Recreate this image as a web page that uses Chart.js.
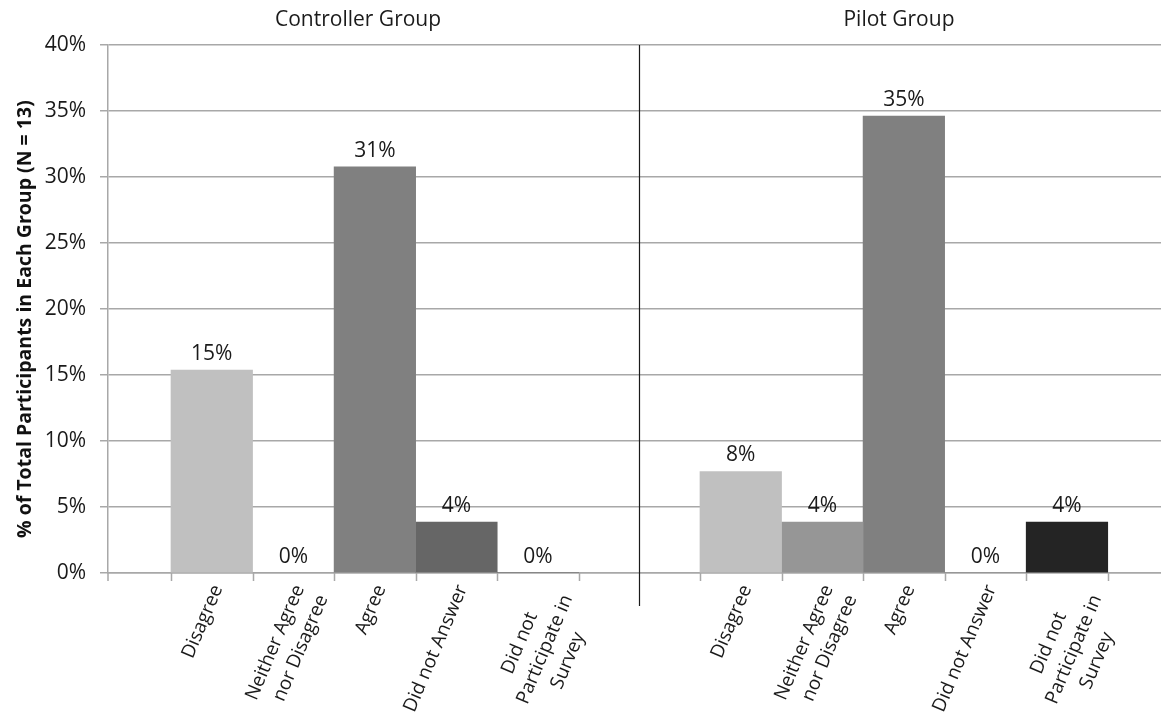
<!DOCTYPE html>
<html><head><meta charset="utf-8">
<script src="https://cdn.jsdelivr.net/npm/chart.js@4.4.1/dist/chart.umd.min.js"></script>
<style>html,body{margin:0;padding:0;background:#fff;}</style>
</head><body>
<canvas id="c" width="1161" height="713"></canvas>
<script>
const groups = ['Controller Group', 'Pilot Group'];
const categories = ['Disagree', 'Neither Agree nor Disagree', 'Agree', 'Did not Answer', 'Did not Participate in Survey'];
const tickLabels = [['Disagree'], ['Neither Agree', 'nor Disagree'], ['Agree'], ['Did not Answer'], ['Did not      ', 'Participate in', 'Survey      ']];
const controllerValues = [15.38, 0, 30.77, 3.85, 0];
const pilotValues = [7.69, 3.85, 34.62, 0, 3.85];
const yTickValues = [0, 5, 10, 15, 20, 25, 30, 35, 40];
const yAxisTitle = '% of Total Participants in Each Group (N = 13)    ';

// layout / style (not data)
const groupValues = [controllerValues, pilotValues];
const barColors = ['#c0c0c0', '#969696', '#808080', '#666666', '#242424'];
const groupStart = [0.7725, 7.259];
const X_MAX = 12.912;
const titleX = [3.066, 9.699];
const FONT = "'Open Sans', 'DejaVu Sans', sans-serif";
const GRID = '#a8a8a8';
const TEXT = '#1a1a1a';

const datasets = categories.map((cat, i) => ({
  label: cat,
  data: groups.map((g, gi) => ({ x: groupStart[gi] + i + 0.5, y: groupValues[gi][i] })),
  backgroundColor: barColors[i],
  borderWidth: 0,
  grouped: false,
  categoryPercentage: 1,
  barPercentage: 1
}));
const tickCenters = [];
groups.forEach((g, gi) => categories.forEach((c, i) => tickCenters.push(groupStart[gi] + i + 0.5)));

const decor = {
  id: 'decor',
  afterDatasetsDraw(chart) {
    const { ctx, chartArea, scales: { x } } = chart;
    ctx.save();
    // value labels
    ctx.font = `21px ${FONT}`;
    ctx.fillStyle = TEXT;
    ctx.textAlign = 'center';
    ctx.textBaseline = 'alphabetic';
    chart.data.datasets.forEach((ds, di) => {
      chart.getDatasetMeta(di).data.forEach((el, j) => {
        ctx.fillText(Math.round(ds.data[j].y) + '%', el.x, el.y - 10);
      });
    });
    // x tick marks at bar boundaries
    ctx.strokeStyle = GRID;
    ctx.lineWidth = 1.5;
    ctx.beginPath();
    ctx.moveTo(chartArea.left, chartArea.bottom);
    ctx.lineTo(chartArea.left, chartArea.bottom + 8);
    groups.forEach((g, gi) => {
      for (let k = 0; k <= categories.length; k++) {
        const px = Math.round(x.getPixelForValue(groupStart[gi] + k)) + 0.5;
        ctx.moveTo(px, chartArea.bottom);
        ctx.lineTo(px, chartArea.bottom + 8);
      }
    });
    ctx.stroke();
    // divider
    const dv = Math.round(x.getPixelForValue((groupStart[0] + categories.length + groupStart[1]) / 2)) + 0.5;
    ctx.strokeStyle = '#1a1a1a';
    ctx.lineWidth = 1.2;
    ctx.beginPath();
    ctx.moveTo(dv, chartArea.top);
    ctx.lineTo(dv, chartArea.bottom + 33);
    ctx.stroke();
    // group titles
    ctx.font = `21px ${FONT}`;
    ctx.fillStyle = TEXT;
    ctx.textBaseline = 'middle';
    groups.forEach((g, gi) => ctx.fillText(g, x.getPixelForValue(titleX[gi]), 20));
    ctx.restore();
  }
};

new Chart(document.getElementById('c'), {
  type: 'bar',
  data: { datasets },
  plugins: [decor],
  options: {
    responsive: false,
    animation: false,
    devicePixelRatio: 1,
    layout: { padding: { top: 45, left: 0, right: 0, bottom: 0 } },
    plugins: { legend: { display: false }, tooltip: { enabled: false } },
    scales: {
      x: {
        type: 'linear',
        min: 0,
        max: X_MAX,
        offset: false,
        grid: { display: false },
        border: { display: true, color: GRID, width: 1.5 },
        ticks: {
          autoSkip: false,
          minRotation: 67,
          maxRotation: 67,
          padding: 0,
          labelOffset: 6,
          color: TEXT,
          font: { family: FONT, size: 19, lineHeight: 1.35 },
          callback: (v, i) => tickLabels[i % categories.length]
        },
        afterBuildTicks: s => { s.ticks = tickCenters.map(v => ({ value: v })); },
        afterFit: s => { s.height = 140; s.paddingLeft = 0; s.paddingRight = 0; }
      },
      y: {
        min: 0,
        max: 40,
        grid: { color: GRID, lineWidth: 1.5, tickLength: 8, drawTicks: true },
        border: { display: true, color: GRID, width: 1.5 },
        ticks: {
          padding: 14,
          color: TEXT,
          font: { family: FONT, size: 21 },
          callback: v => v + '%'
        },
        title: {
          display: true,
          text: yAxisTitle,
          color: '#111',
          font: { family: FONT, size: 19.5, weight: 'bold' },
          padding: { top: 14, bottom: 0 }
        },
        afterBuildTicks: s => { s.ticks = yTickValues.map(v => ({ value: v })); },
        afterFit: s => { s.width = 108; }
      }
    }
  }
});
</script>
</body></html>
